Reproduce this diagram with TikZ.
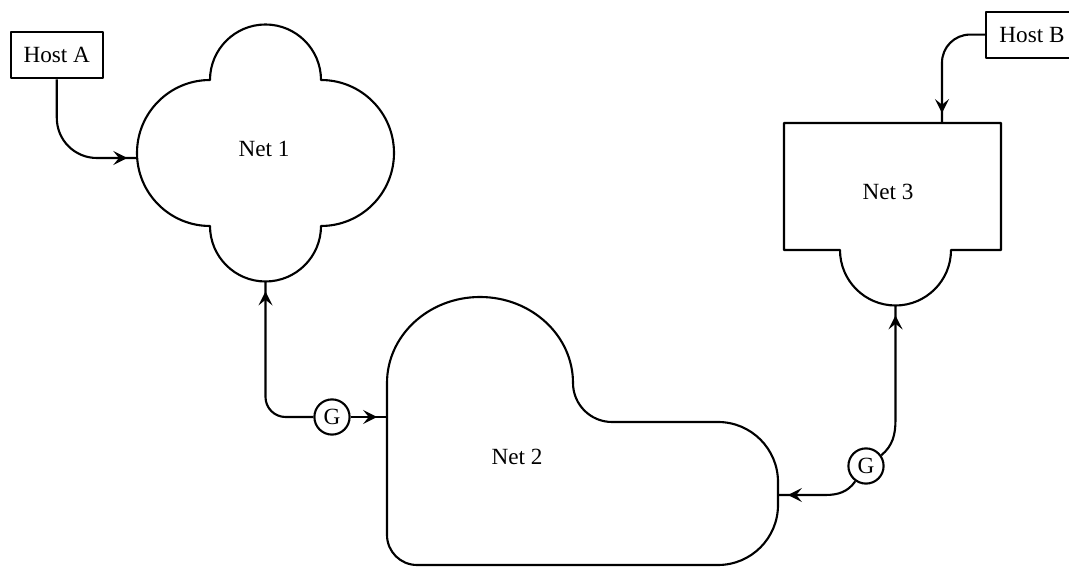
\documentclass[tikz,border=0pt]{standalone}
\usepackage{fontspec}
\setmainfont{Liberation Serif}
\usetikzlibrary{arrows.meta,decorations.markings}

\begin{document}
\begin{tikzpicture}[line width=1.5pt, line join=round,
    font=\fontsize{16.5}{20}\selectfont,
    host/.style={draw, minimum width=2.3cm, minimum height=1.15cm, inner sep=2pt},
    gw/.style={draw, circle, minimum size=0.88cm, inner sep=0pt},
    tipend/.style={postaction={decorate}, decoration={markings,
      mark=at position -7pt with {\arrow{Stealth[length=10pt,width=10pt,inset=4pt]}}}}]

  \path[use as bounding box, clip] (0,0) rectangle (26.725,14.175);

  \def\ca{1.3875}  % cloud lobe radius, top/bottom
  \def\cb{1.825}   % cloud lobe radius, left/right

  % Net 1: four half-circles round a box
  \draw (5.25,12.175) arc[start angle=180, end angle=0, radius=\ca]
    arc[start angle=90, end angle=-90, radius=\cb]
    arc[start angle=0, end angle=-180, radius=\ca]
    arc[start angle=270, end angle=90, radius=\cb] -- cycle;
  \node (net1) at (6.6,10.45) {Net 1};
  \coordinate (n1w) at (3.43,10.225);
  \coordinate (n1s) at (6.6375,7.1375);

  % Net 2: big lobe on a rounded block
  \draw (9.675,4.6) arc[start angle=180, end angle=0, x radius=2.325, y radius=2.15]
    arc[start angle=180, end angle=270, radius=0.975]
    -- (17.95,3.625) arc[start angle=90, end angle=0, radius=1.5]
    -- (19.45,1.55) arc[start angle=0, end angle=-90, radius=1.5]
    -- (10.425,0.05) arc[start angle=270, end angle=180, radius=0.75] -- cycle;
  \node (net2) at (12.925,2.75) {Net 2};
  \coordinate (n2w) at (9.675,3.75);
  \coordinate (n2e) at (19.45,1.8);

  % Net 3: box with a half-circle below
  \draw (19.6,11.1) -- (25.025,11.1) -- (25.025,7.925) -- (23.775,7.925)
    arc[start angle=0, end angle=-180, radius=\ca] -- (19.6,7.925) -- cycle;
  \node (net3) at (22.2,9.375) {Net 3};
  \coordinate (n3n) at (23.55,11.1);
  \coordinate (n3s) at (22.3875,6.5375);

  % hosts and gateways
  \node[host] (hosta) at (1.42,12.79) {Host A};
  \node[host] (hostb) at (25.8,13.31) {Host B};
  \node[gw] (g1) at (8.3,3.75) {G};
  \node[gw] (g2) at (21.65,2.525) {G};

  % links
  \draw[tipend, rounded corners=1cm] (hosta.south) |- (n1w);
  \draw[tipend, rounded corners=0.5cm] (g1.west) -| (n1s);
  \draw[tipend] (g1.east) -- (n2w);
  \draw[tipend, rounded corners=0.7cm] (hostb.west) -| (n3n);
  \draw[tipend] (g2.35) to[out=40,in=-90] ([yshift=0.7cm]n3s |- g2.north) -- (n3s);
  \draw[tipend] (g2.235) to[out=235,in=0] ([xshift=-0.55cm]n2e -| g2.west) -- (n2e);
\end{tikzpicture}
\end{document}
